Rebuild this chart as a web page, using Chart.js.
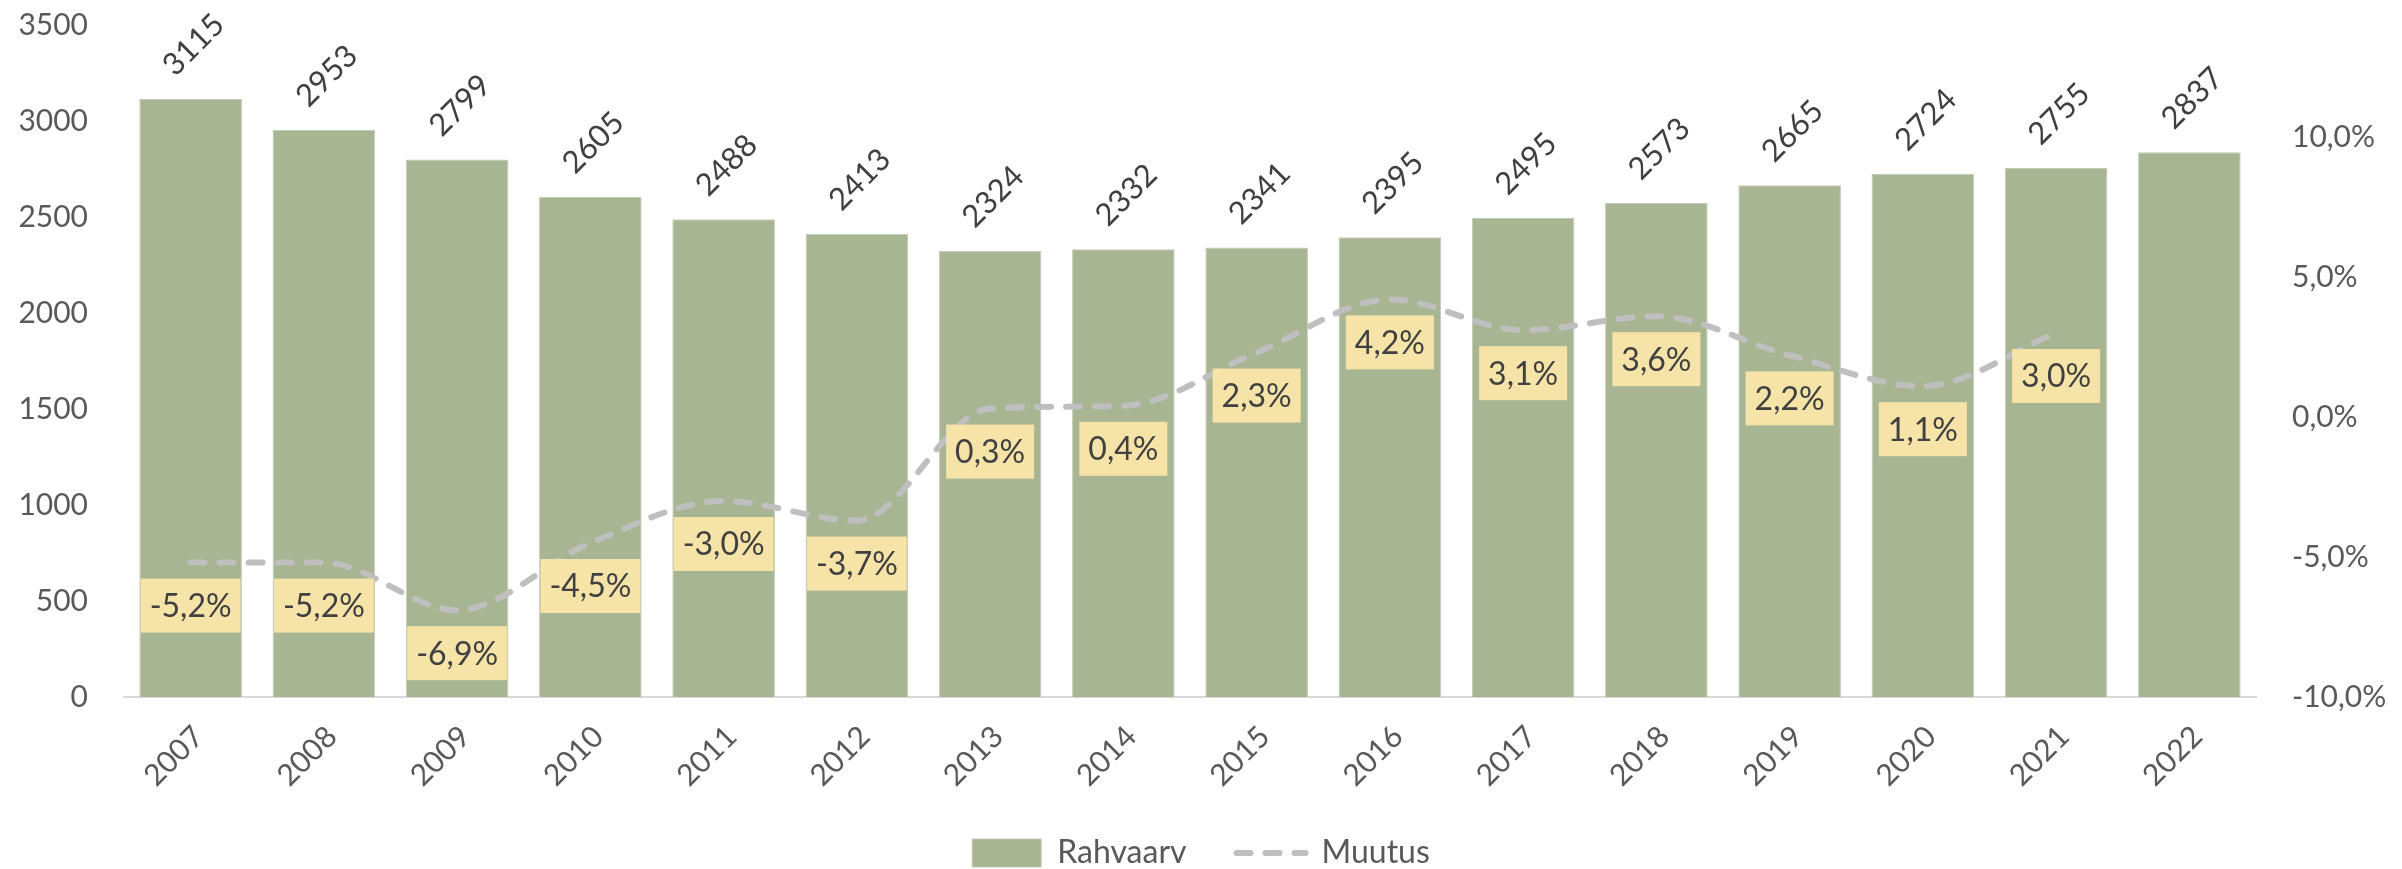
<!DOCTYPE html>
<html>
<head>
<meta charset="utf-8">
<script src="https://cdn.jsdelivr.net/npm/chart.js@4/dist/chart.umd.min.js"></script>
<style>
    html, body { margin: 0; padding: 0; background: #fff; overflow: hidden; }
    #wrap { width: 2402px; height: 879px; position: relative; }
</style>
</head>
<body>
<div id="wrap"><canvas id="grafik"></canvas></div>
<script>
//--|andmed|--//
const aastad = ['2007', '2008', '2009', '2010', '2011', '2012', '2013', '2014',
                '2015', '2016', '2017', '2018', '2019', '2020', '2021', '2022'];
const rahvaarv = [3115, 2953, 2799, 2605, 2488, 2413, 2324, 2332,
                  2341, 2395, 2495, 2573, 2665, 2724, 2755, 2837];
const muutus = [-5.2, -5.2, -6.9, -4.5, -3.0, -3.7, 0.3, 0.4,
                2.3, 4.2, 3.1, 3.6, 2.2, 1.1, 3.0, null];
const vasakTeljeSammud = [0, 500, 1000, 1500, 2000, 2500, 3000, 3500];
const paremTeljeSammud = [-10, -5, 0, 5, 10];

const komaga = v => v.toFixed(1).replace('.', ',') + '%';

//--|siltide joonistamine|--//
const sildid = {
    id: 'sildid',
    afterDatasetsDraw(chart) {
        const ctx = chart.ctx;
        const c = Math.SQRT1_2;
        // tulpade väärtused, 45 kraadi all
        const tulbad = chart.getDatasetMeta(1);
        tulbad.data.forEach((el, i) => {
            ctx.save();
            ctx.setTransform(c, -c, c, c, el.x + 3, el.y - 54);
            ctx.font = '31px Lato';
            ctx.fillStyle = '#404040';
            ctx.textAlign = 'center';
            ctx.textBaseline = 'middle';
            ctx.fillText(String(rahvaarv[i]), 0, 0);
            ctx.restore();
        });
        // muutuse kastid
        const joon = chart.getDatasetMeta(0);
        ctx.save();
        ctx.font = '32px Lato';
        ctx.textAlign = 'center';
        ctx.textBaseline = 'middle';
        joon.data.forEach((el, i) => {
            if (muutus[i] === null) return;
            const tekst = komaga(muutus[i]);
            const w = ctx.measureText(tekst).width + 18;
            const h = 54;
            const cy = el.y + 43;
            ctx.fillStyle = '#F5E3A8';
            ctx.fillRect(el.x - w / 2, cy - h / 2, w, h);
            ctx.fillStyle = '#404040';
            ctx.fillText(tekst, el.x, cy + 1);
        });
        ctx.restore();
    }
};

Chart.defaults.font.family = 'Lato';
Chart.defaults.color = '#595959';

new Chart(document.getElementById('grafik'), {
    data: {
        labels: aastad,
        datasets: [
            {
                type: 'line',
                label: 'Muutus',
                data: muutus,
                yAxisID: 'y1',
                order: 1,
                borderColor: '#BFBFBF',
                backgroundColor: '#BFBFBF',
                borderWidth: 6,
                borderDash: [14, 15],
                borderCapStyle: 'round',
                pointRadius: 0,
                pointStyle: 'line',
                cubicInterpolationMode: 'monotone',
                spanGaps: false
            },
            {
                type: 'bar',
                label: 'Rahvaarv',
                data: rahvaarv,
                yAxisID: 'y',
                order: 2,
                backgroundColor: '#A7B592',
                borderColor: '#C2CBB5',
                borderWidth: 1,
                pointStyle: 'rect',
                barPercentage: 0.77,
                categoryPercentage: 1
            }
        ]
    },
    options: {
        responsive: true,
        maintainAspectRatio: false,
        animation: false,
        layout: { padding: { top: 25, left: 0, right: 0, bottom: 0 } },
        plugins: {
            tooltip: { enabled: false },
            legend: {
                position: 'bottom',
                labels: {
                    usePointStyle: true,
                    pointStyleWidth: 69,
                    boxHeight: 28,
                    padding: 50,
                    color: '#595959',
                    font: { size: 32 },
                    sort: (a, b) => b.datasetIndex - a.datasetIndex,
                    generateLabels: chart => {
                        const items = Chart.defaults.plugins.legend.labels.generateLabels(chart);
                        items.forEach(it => {
                            if (it.datasetIndex === 0) {
                                it.lineDash = [14, 15];
                                it.lineCap = 'round';
                                it.lineWidth = 6;
                            }
                        });
                        return items;
                    }
                }
            }
        },
        scales: {
            x: {
                grid: { display: false, drawTicks: false },
                border: { color: '#D9D9D9', width: 2 },
                ticks: {
                    minRotation: 45,
                    maxRotation: 45,
                    padding: 22,
                    labelOffset: 8,
                    color: '#595959',
                    font: { size: 30 }
                },
                afterFit: s => { s.height = 90; }
            },
            y: {
                position: 'left',
                min: 0,
                max: 3500,
                grid: { display: false, drawTicks: false },
                border: { display: false },
                afterBuildTicks: s => { s.ticks = vasakTeljeSammud.map(v => ({ value: v })); },
                ticks: {
                    padding: 36,
                    color: '#595959',
                    font: { size: 30 },
                    callback: v => String(v)
                },
                afterFit: s => { s.width = 124; s.paddingTop = 0; s.paddingBottom = 0; }
            },
            y1: {
                position: 'right',
                min: -10,
                max: 14,
                grid: { display: false, drawTicks: false },
                border: { display: false },
                afterBuildTicks: s => { s.ticks = paremTeljeSammud.map(v => ({ value: v })); },
                ticks: {
                    padding: 36,
                    color: '#595959',
                    font: { size: 30 },
                    callback: v => komaga(v)
                },
                afterFit: s => { s.width = 146; s.paddingTop = 0; s.paddingBottom = 0; }
            }
        }
    },
    plugins: [sildid]
});
</script>
</body>
</html>
